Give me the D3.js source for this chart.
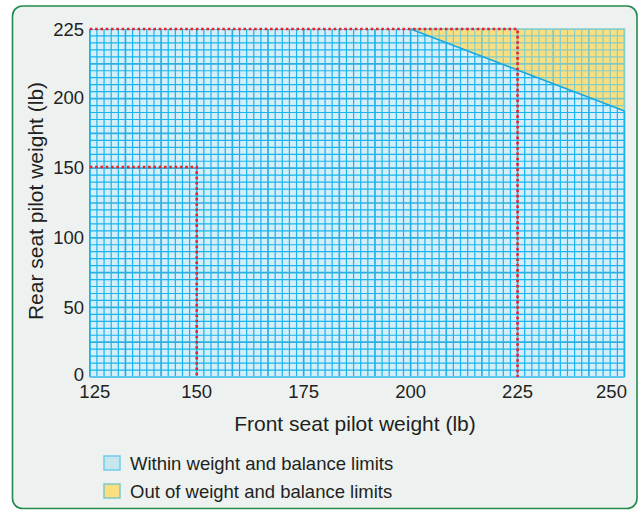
<!DOCTYPE html>
<html><head><meta charset="utf-8">
<script src="https://cdn.jsdelivr.net/npm/d3@7"></script>
<style>
html,body{margin:0;padding:0;background:#fff;}
svg{display:block;font-family:"Liberation Sans",Arial,Helvetica,sans-serif;}
</style></head>
<body>
<svg id="chart" width="642" height="510"></svg>
<script>
// ---- data ----
const xTicks = [125, 150, 175, 200, 225, 250];
const yTicks = [0, 50, 100, 150, 200, 225];
const xDomain = [125, 250];
const yBreaks = [0, 200, 225];           // axis is stretched above 200 lb
const limitFront = [200, 250];           // boundary of the envelope
const limitRear  = [225, 190];
const exampleFront = [150, 225];         // example pilot weights (red dotted)
const exampleRear  = [150, 225];
const legendLabels = ["Within weight and balance limits", "Out of weight and balance limits"];
const xTitle = "Front seat pilot weight (lb)";
const yTitle = "Rear seat pilot weight (lb)";
const gridCols = 75, gridRows = 50;

// ---- layout ----
const svg = d3.select("#chart");
const L = 89.8, R = 624.5, T = 29, B = 377;
const x = d3.scaleLinear().domain(xDomain).range([L, R]);
const y = d3.scaleLinear().domain(yBreaks).range([B, 97, T]);

// frame
svg.append("rect").attr("x", 12.5).attr("y", 6).attr("width", 624.5).attr("height", 502.5)
  .attr("rx", 10).attr("fill", "#edf2f0").attr("stroke", "#238a4c").attr("stroke-width", 1.6);

// regions
const withinPts = [[125,0],[125,225],[limitFront[0],limitRear[0]],[limitFront[1],limitRear[1]],[250,0]];
const outPts = [[limitFront[0],limitRear[0]],[250,225],[limitFront[1],limitRear[1]]];
const poly = pts => pts.map(p => [x(p[0]), y(p[1])].join(",")).join(" ");

const defs = svg.append("defs");
defs.append("clipPath").attr("id","cWithin").append("polygon").attr("points", poly(withinPts));
defs.append("clipPath").attr("id","cOut").append("polygon").attr("points", poly(outPts));

svg.append("polygon").attr("points", poly(withinPts)).attr("fill", "#d5eefa");
svg.append("polygon").attr("points", poly(outPts)).attr("fill", "#f9df80");

// grid
const colVals = d3.range(0, gridCols + 1).map(i => xDomain[0] + i * (xDomain[1] - xDomain[0]) / gridCols);
const gy = d3.scaleLinear().domain([0, gridRows]).range([B, T]);
function drawGrid(clip, color, colorStrong) {
  const g = svg.append("g").attr("clip-path", `url(#${clip})`);
  g.selectAll("line.v").data(colVals).join("line").attr("class","v")
    .attr("x1", d => x(d)).attr("x2", d => x(d)).attr("y1", T).attr("y2", B)
    .attr("stroke", (d,i) => i % 5 === 0 ? colorStrong : color)
    .attr("stroke-width", (d,i) => i % 5 === 0 ? 1.7 : 1.2);
  g.selectAll("line.h").data(d3.range(0, gridRows + 1)).join("line").attr("class","h")
    .attr("x1", L).attr("x2", R).attr("y1", d => gy(d)).attr("y2", d => gy(d))
    .attr("stroke", (d,i) => i % 5 === 0 ? colorStrong : color)
    .attr("stroke-width", (d,i) => i % 5 === 0 ? 1.7 : 1.2);
}
drawGrid("cWithin", "#17b5ec", "#2bb0e0");
drawGrid("cOut", "#86cdc8", "#7fc8c4");

// outline of out region
svg.append("polyline").attr("points", [[limitFront[0],limitRear[0]],[250,225],[limitFront[1],limitRear[1]]].map(p=>[x(p[0]),y(p[1])].join(",")).join(" "))
  .attr("fill","none").attr("stroke","#86cdc8").attr("stroke-width",1.5);
// boundary line
svg.append("line").attr("x1", x(limitFront[0])).attr("y1", y(limitRear[0]))
  .attr("x2", x(limitFront[1])).attr("y2", y(limitRear[1]))
  .attr("stroke", "#18a8e0").attr("stroke-width", 1.6);
// left/bottom edges
svg.append("line").attr("x1", L).attr("x2", L).attr("y1", T).attr("y2", B).attr("stroke","#17b5ec").attr("stroke-width",1.6);
svg.append("line").attr("x1", L).attr("x2", R).attr("y1", B).attr("y2", B).attr("stroke","#5cc6ee").attr("stroke-width",2);
svg.append("line").attr("x1", R).attr("x2", R).attr("y1", y(limitRear[1])).attr("y2", B).attr("stroke","#17b5ec").attr("stroke-width",1.6);

// red dotted example lines
exampleFront.forEach((f, i) => {
  const r = exampleRear[i];
  svg.append("polyline")
    .attr("points", [[xDomain[0], r],[f, r],[f, 0]].map(p => [x(p[0]), y(p[1])].join(",")).join(" "))
    .attr("fill","none").attr("stroke","#e8222c").attr("stroke-width",2.6)
    .attr("stroke-dasharray","2.6 2.7");
});

// axes labels
const tickFont = 18.5, ink = "#231f20";
const xOff = {125: 5, 250: -13};
svg.append("g").selectAll("text").data(xTicks).join("text")
  .attr("x", d => x(d) + (xOff[d] || 0)).attr("y", 398)
  .attr("text-anchor","middle").attr("font-size", tickFont).attr("fill", ink).text(d => d);
const yOff = {0: -3};
svg.append("g").selectAll("text").data(yTicks).join("text")
  .attr("x", 84).attr("y", d => y(d) + 6.5 + (yOff[d] || 0))
  .attr("text-anchor","end").attr("font-size", tickFont).attr("fill", ink).text(d => d);

svg.append("text").attr("x", 355).attr("y", 431).attr("text-anchor","middle")
  .attr("font-size", 21).attr("fill", ink).text(xTitle);
svg.append("text").attr("transform","translate(43,201) rotate(-90)").attr("text-anchor","middle")
  .attr("font-size", 21).attr("fill", ink).text(yTitle);

// legend
const legFill = ["#c8e6ee", "#f9df80"], legStroke = ["#6fcbeb", "#7fc8c4"];
const lg = svg.append("g");
legendLabels.forEach((t, i) => {
  const yy = 456 + i * 28;
  lg.append("rect").attr("x", 104).attr("y", yy).attr("width", 16).attr("height", 14)
    .attr("fill", legFill[i]).attr("stroke", legStroke[i]).attr("stroke-width", 1.5);
  lg.append("text").attr("x", 130).attr("y", yy + 13.5).attr("font-size", 18.5).attr("fill", ink).text(t);
});
</script>
</body></html>
